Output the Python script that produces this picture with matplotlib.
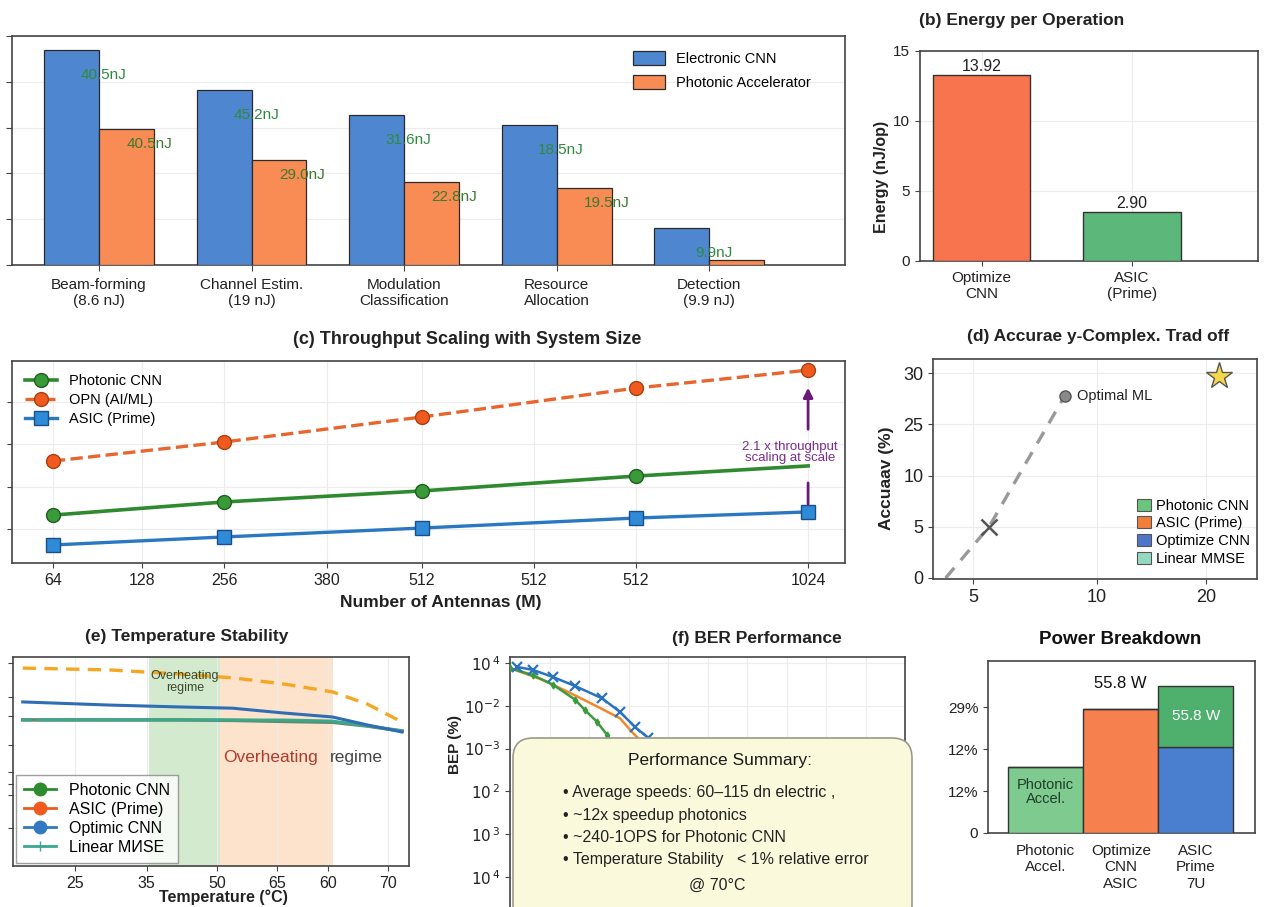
import numpy as np
import matplotlib.pyplot as plt
from matplotlib.lines import Line2D
from matplotlib.patches import Patch, FancyBboxPatch
from matplotlib.transforms import IdentityTransform

plt.rcParams['font.family'] = ['Liberation Sans', 'DejaVu Sans']
plt.rcParams['axes.edgecolor'] = '#444444'
plt.rcParams['axes.linewidth'] = 1.2
plt.rcParams['xtick.color'] = '#444444'
plt.rcParams['ytick.color'] = '#444444'
plt.rcParams['xtick.labelcolor'] = '#222222'
plt.rcParams['ytick.labelcolor'] = '#222222'

# (a) energy per task
tasks = ['Beam-forming\n(8.6 nJ)', 'Channel Estim.\n(19 nJ)', 'Modulation\nClassification',
         'Resource\nAllocation', 'Detection\n(9.9 nJ)']
electronic_nj = [47.0, 38.2, 32.8, 30.6, 8.1]
photonic_nj = [29.7, 22.9, 18.1, 16.8, 1.1]
electronic_lbl = ['40.5nJ', '45.2nJ', '31.6nJ', '18.5nJ', '9.9nJ']
photonic_lbl = ['40.5nJ', '29.0nJ', '22.8nJ', '19.5nJ', '']

# (b) energy per operation
b_methods = ['Optimize\nCNN', 'ASIC\n(Prime)']
b_energy = [13.3, 3.5]
b_labels = ['13.92', '2.90']

# (c) throughput scaling
ant_tick_labels = ['64', '128', '256', '380', '512', '512', '512', '1024']
ant_tick_pos = [0.53, 1.42, 2.25, 3.28, 4.23, 5.35, 6.37, 8.10]
ant_x = [0.53, 2.25, 4.23, 6.37, 8.10]
opn_tp = [5.21, 6.11, 7.29, 8.65, 9.50]
photonic_tp = [2.66, 3.28, 3.80, 4.50, 4.98]
asic_tp = [1.25, 1.63, 2.05, 2.52, 2.81]

# (d) accuracy vs complexity
d_complexity = [3.9, 5.65, 8.7]
d_accuracy = [0.0, 5.0, 17.8]
star_complexity = [14.9]
star_accuracy = [19.7]
d_xticks = [5, 10, 14.4]
d_xlabels = ['5', '10', '20']
d_yticks = [0, 5, 10, 15, 20]
d_ylabels = ['0', '5', '10', '25', '30']
d_legend = ['Photonic CNN', 'ASIC (Prime)', 'Optimize CNN', 'Linear MMSE']

# (e) temperature stability
temp_c = [17.5, 30, 40, 47.7, 55, 62, 67, 72]
asic_e = [9.47, 9.38, 9.19, 9.00, 8.71, 8.33, 7.75, 6.89]
optimic_e = [7.85, 7.70, 7.61, 7.55, 7.32, 7.13, 6.75, 6.41]
photonic_e = [6.99, 6.99, 6.99, 6.97, 6.92, 6.88, 6.70, 6.46]
linear_e = [6.99, 6.99, 6.99, 6.99, 6.99, 6.94, 6.70, 6.46]
e_tick_pos = [25, 35.3, 45.4, 54.0, 61.4, 70]
e_tick_labels = ['25', '35', '50', '65', '60', '70']

# (f) BER
snr_blue = [0.35, 1.16, 2.18, 3.29, 4.66, 5.57, 6.33, 6.99, 8.0, 9.0]
ber_blue = [0.81, 0.69, 0.47, 0.29, 0.15, 0.072, 0.032, 0.018, 0.006, 0.0015]
snr_orange = [0.0, 1.67, 3.04, 4.56, 5.57, 6.23, 7.5, 8.5]
ber_orange = [0.76, 0.40, 0.20, 0.089, 0.051, 0.023, 0.006, 0.0015]
snr_green = [0.0, 1.16, 2.18, 3.29, 3.80, 4.41, 4.91, 6.0, 7.0]
ber_green = [0.76, 0.52, 0.31, 0.14, 0.079, 0.042, 0.021, 0.004, 0.0008]
f_yticks = [1, 1e-1, 1e-2, 1e-3, 1e-4, 1e-5]
f_ylabels = [r'$10^{\,4}$', r'$10^{-2}$', r'$10^{-3}$', r'$10^{\,2}$', r'$10^{\,3}$', r'$10^{\,4}$']
summary_lines = ['• Average speeds: 60–115 dn electric ,', '• ~12x speedup photonics',
                 '• ~240-1OPS for Photonic CNN', '• Temperature Stability   < 1% relative error']

# power breakdown
pw_systems = ['Photonic\nAccel.', 'Optimize\nCNN\nASIC', 'ASIC\nPrime\n7U']
pw_base = [1.57, 2.95, 2.05]
pw_top = [0, 0, 1.45]
pw_ticklabels = ['0', '12%', '12%', '29%']

W, H = 1264, 907
fig = plt.figure(figsize=(W / 100, H / 100), dpi=100)


def add_ax(l, t, r, b):
    return fig.add_axes([l / W, 1 - b / H, (r - l) / W, (b - t) / H])


def ftext(x, y, s, **kw):
    kw.setdefault('va', 'center')
    return fig.text(x / W, 1 - y / H, s, **kw)


grid_kw = dict(color='#ececec', lw=0.8, zorder=0)

# ---------- (a) ----------
ax = add_ax(12, 36, 845, 265)
xa = np.arange(len(tasks))
w = 0.36
ax.bar(xa - w / 2, electronic_nj, w, color='#4f86d0', edgecolor='#2b2b2b', lw=0.9,
       label='Electronic CNN', zorder=3)
ax.bar(xa + w / 2, photonic_nj, w, color='#f98b55', edgecolor='#2b2b2b', lw=0.9,
       label='Photonic Accelerator', zorder=3)
for i in xa:
    ax.text(i + 0.03, electronic_nj[i] - 5.5, electronic_lbl[i], ha='center', va='center',
            color='#2e8b3e', fontsize=11, zorder=4)
    if photonic_lbl[i]:
        ax.text(i + 0.33, photonic_nj[i] - 3.2, photonic_lbl[i], ha='center', va='center',
                color='#3d7a2e', fontsize=11, zorder=4)
ax.set_xlim(-0.57, 4.89)
ax.set_ylim(0, 50)
ax.set_yticks(range(0, 51, 10))
ax.set_yticklabels([])
ax.set_xticks(xa, tasks, fontsize=11)
ax.tick_params(length=4, pad=5)
ax.grid(axis='y', **grid_kw)
ax.legend(loc='upper right', bbox_to_anchor=(0.975, 0.99), frameon=False, fontsize=10.5,
          handlelength=2.2, handleheight=1.1, labelspacing=0.6)

# ---------- (b) ----------
ax = add_ax(920, 51, 1258, 261)
xb = np.arange(len(b_methods))
ax.bar(xb, b_energy, 0.65, color=['#f7744f', '#5cb87a'], edgecolor='#333333', lw=1, zorder=3)
for i in xb:
    ax.text(i, b_energy[i] + 0.05, b_labels[i], ha='center', va='bottom', fontsize=11.5,
            color='#222222')
ax.set_xlim(-0.41, 1.84)
ax.set_ylim(0, 15)
ax.set_yticks([0, 5, 10, 15])
ax.set_xticks(xb, b_methods, fontsize=11)
ax.tick_params(labelsize=11)
ax.grid(**grid_kw)
ftext(919, 20, '(b) Energy per Operation', ha='left', fontsize=12.5, weight='bold', color='#222222')
ftext(881, 177, 'Energy (nJ/op)', ha='center', rotation=90, fontsize=11.5, weight='bold',
      color='#222222')

# ---------- (c) ----------
ax = add_ax(12, 361, 845, 563)
ax.plot(ant_x, photonic_tp, '-o', color='#2f8a2f', lw=2.6, ms=10, mfc='#3a9a3a', mec='#1e5e1e',
        markevery=[0, 1, 2, 3], label='Photonic CNN', zorder=3)
ax.plot(ant_x, opn_tp, '--o', color='#e8662e', lw=2.4, ms=10, mfc='#f05a1e', mec='#a8400f',
        label='OPN (AI/ML)', zorder=3)
ax.plot(ant_x, asic_tp, '-s', color='#2a78c2', lw=2.4, ms=10, mfc='#2f8ad8', mec='#1a4f8a',
        label='ASIC (Prime)', zorder=3)
ax.annotate('', xy=(ant_x[-1], opn_tp[-1] - 0.7), xytext=(ant_x[-1], 6.58),
            arrowprops=dict(arrowstyle='-|>', color='#6a1b7a', lw=2, mutation_scale=14))
ax.annotate('', xy=(ant_x[-1], asic_tp[-1] + 0.23), xytext=(ant_x[-1], 4.31),
            arrowprops=dict(arrowstyle='-', color='#6a1b7a', lw=2))
ax.text(7.92, 5.6, '2.1 x throughput\nscaling at scale', ha='center', va='center',
        color='#7b2d8e', fontsize=9.5, linespacing=0.9, zorder=4)
ax.set_xlim(0.12, 8.47)
ax.set_ylim(0.4, 9.93)
ax.set_xticks(ant_tick_pos, ant_tick_labels, fontsize=11.5)
ax.set_yticks([2, 4, 6, 8])
ax.set_yticklabels([])
ax.grid(**grid_kw)
ax.legend(loc='upper left', bbox_to_anchor=(0.0, 1.0), frameon=False, fontsize=10.5,
          handlelength=2.2, labelspacing=0.35)
ftext(467, 340, '(c) Throughput Scaling with System Size', ha='center', fontsize=13,
      weight='bold', color='#222222')
ftext(441, 602, 'Number of Antennas (M)', ha='center', fontsize=12.5, weight='bold',
      color='#222222')

# ---------- (d) ----------
ax = add_ax(933, 359, 1257, 579)
ax.plot(d_complexity, d_accuracy, '--', color='#999999', lw=2.4, dashes=(4, 3), zorder=2)
ax.plot(d_complexity[1:2], d_accuracy[1:2], 'x', color='#555555', ms=11, mew=1.8, zorder=3)
ax.plot(d_complexity[2:], d_accuracy[2:], 'o', color='#8a8a8a', mec='#555555', ms=8, zorder=3)
ax.text(d_complexity[2] + 0.5, d_accuracy[2], 'Optimal ML', ha='left', va='center',
        fontsize=10.5, color='#222222')
ax.plot(star_complexity, star_accuracy, '*', color='#f7d84a', mec='#555555', mew=1, ms=20,
        zorder=3)
handles = [Patch(facecolor=c, edgecolor='#555555', lw=0.8) for c in
           ['#6cc57f', '#f07f3c', '#4f76c8', '#93d9c0']]
ax.legend(handles, d_legend, loc='lower right', bbox_to_anchor=(1.02, 0.0), frameon=False,
          fontsize=10.5, handlelength=0.9, handleheight=0.9, handletextpad=0.4,
          labelspacing=0.25)
ax.set_xlim(3.39, 16.45)
ax.set_ylim(-0.1, 21.4)
ax.set_xticks(d_xticks, d_xlabels)
ax.set_yticks(d_yticks, d_ylabels)
ax.tick_params(labelsize=13)
ax.grid(**grid_kw)
ftext(1098, 337, '(d) Accurae y-Complex. Trad off', ha='center', fontsize=12.5, weight='bold',
      color='#222222')
ftext(887, 478, 'Accuaav (%)', ha='center', rotation=90, fontsize=12.5, weight='bold',
      color='#222222')

# ---------- (e) ----------
ax = add_ax(13, 657, 409, 866)
ax.axvspan(35.6, 45.8, color='#d3eacf', lw=0, zorder=0)
ax.axvspan(45.8, 62.1, color='#fde3cc', lw=0, zorder=0)
ax.plot(temp_c, photonic_e, '-', color='#5f8f6a', lw=2.6, zorder=2)
ax.plot(temp_c, linear_e, color='#3aa88f', lw=2, linestyle=(0, (3, 2.5, 200, 1)), zorder=3)
ax.plot(temp_c, optimic_e, '-', color='#2f6db5', lw=2.2, zorder=3)
ax.plot(temp_c, asic_e, '--', color='#f5a623', lw=2.4, dashes=(4, 2.5), zorder=3)
ax.text(40.8, 8.8, 'Overheating\nregime', ha='center', va='center', fontsize=9,
        color='#3b4a2a', linespacing=1.0, zorder=4)
ax.text(46.3, 5.2, 'Overheating', ha='left', va='center', fontsize=12.5, color='#b03a2e', zorder=4)
ax.text(61.6, 5.2, 'regime', ha='left', va='center', fontsize=12.5, color='#444444', zorder=4)
e_handles = [Line2D([], [], color='#2e8b2e', marker='o', ms=9, lw=2),
             Line2D([], [], color='#f05a1e', marker='o', ms=9, lw=2),
             Line2D([], [], color='#2f7ac0', marker='o', ms=9, lw=2),
             Line2D([], [], color='#3aa88f', marker='+', ms=7, lw=2)]
leg = ax.legend(e_handles, ['Photonic CNN', 'ASIC (Prime)', 'Optimic CNN', 'Linear MИSE'],
                loc='lower left', bbox_to_anchor=(0.008, 0.015), borderaxespad=0,
                fontsize=11.5, frameon=True, fancybox=False, handlelength=2.0,
                labelspacing=0.25, borderpad=0.5)
leg.get_frame().set_edgecolor('#888888')
leg.get_frame().set_linewidth(1)
ax.set_xlim(16.1, 73.0)
ax.set_ylim(0, 10)
ax.set_xticks(e_tick_pos, e_tick_labels, fontsize=11.5)
ax.set_yticks([1.8, 3.4, 3.9, 4.5, 5.8, 7.2, 8.1, 9.7])
ax.set_yticklabels([])
ax.grid(axis='x', **grid_kw)
ftext(187, 636, '(e) Temperature Stability', ha='center', fontsize=12.5, weight='bold',
      color='#222222')
ftext(223, 897, 'Temperature (°C)', ha='center', fontsize=11.5, weight='bold', color='#222222')

# ---------- (f) ----------
ax = add_ax(510, 657, 905, 930)
ax.plot(snr_orange, ber_orange, '-', color='#f0882a', lw=1.8, zorder=3)
ax.plot(snr_green, ber_green, '-d', color='#3e9a3e', lw=1.8, ms=3.5, zorder=3)
ax.plot(snr_blue, ber_blue, '-x', color='#2a73c0', lw=1.8, ms=7, mew=1.6, zorder=3)
ax.set_yscale('log')
ax.set_xlim(0, 20)
ax.set_ylim(1.38, 5.8e-7)
ax.invert_yaxis()
ax.set_yticks(f_yticks, f_ylabels)
ax.minorticks_off()
ax.set_xticks(np.arange(0, 21, 2))
ax.set_xticklabels([])
ax.tick_params(labelsize=11)
ax.grid(**grid_kw)
ftext(757, 638, '(f) BER Performance', ha='center', fontsize=12.5, weight='bold', color='#222222')
ftext(455, 745, 'BEP (%)', ha='center', rotation=90, fontsize=11, weight='bold', color='#222222')

box = FancyBboxPatch((513, H - 925), 399, 925 - 738, boxstyle='round,pad=0,rounding_size=20',
                     transform=IdentityTransform(), facecolor='#fbf9dc', edgecolor='#9a9a8a',
                     lw=1.2, zorder=5)
fig.patches.append(box)
ftext(720, 760, 'Performance Summary:', ha='center', fontsize=12.5, color='#1a1a1a', zorder=6)
for k, line in enumerate(summary_lines):
    ftext(563, 793 + 22.3 * k, line, ha='left', fontsize=11.5, color='#222222', zorder=6)
ftext(717, 885, '@ 70°C', ha='center', fontsize=11.5, color='#222222', zorder=6)

# ---------- power breakdown ----------
ax = add_ax(988, 661, 1255, 833)
xp = np.arange(len(pw_systems))
ax.bar(xp, pw_base, 1.0, color=['#7fcb8f', '#f7804f', '#4a7fd0'], edgecolor='#333333', lw=1,
       zorder=3)
ax.bar(xp, pw_top, 1.0, bottom=pw_base, color='#4faf6c', edgecolor='#333333', lw=1, zorder=3)
ax.text(0, 0.98, 'Photonic\nAccel.', ha='center', va='center', fontsize=10.5, color='#1f3d2a',
        linespacing=1.0, zorder=4)
ax.text(1, 3.57, '55.8 W', ha='center', va='center', fontsize=12, color='#111111', zorder=4)
ax.text(2, 2.8, '55.8 W', ha='center', va='center', fontsize=11, color='white', zorder=4)
ax.set_xlim(-0.77, 2.79)
ax.set_ylim(0, 4.1)
ax.set_yticks(range(len(pw_ticklabels)), pw_ticklabels)
ax.set_xticks(xp, pw_systems)
ax.tick_params(axis='x', length=0, pad=8)
ax.tick_params(labelsize=11)
ftext(1120, 639, 'Power Breakdown', ha='center', fontsize=13.5, weight='bold', color='#111111')

fig.savefig('out.png', dpi=100)
